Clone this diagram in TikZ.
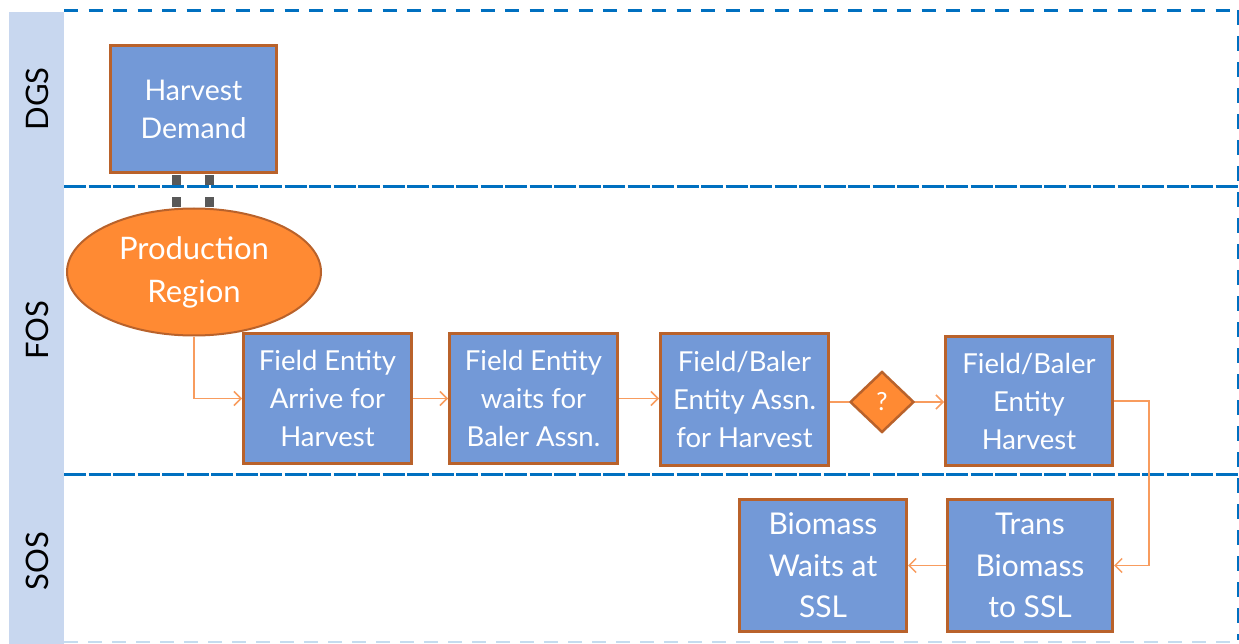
\documentclass[tikz,border=0pt]{standalone}
\usepackage{fontspec}
\setmainfont{Lato}
\usetikzlibrary{shapes.geometric,arrows.meta}
\definecolor{boxfill}{HTML}{7399D7}
\definecolor{boxedge}{HTML}{B9622B}
\definecolor{orfill}{HTML}{FF8A33}
\definecolor{lanecol}{HTML}{0070C0}
\definecolor{stripcol}{HTML}{C8D7EF}
\definecolor{arrcol}{HTML}{F89C5E}
\definecolor{conncol}{HTML}{595959}
\definecolor{faint}{HTML}{C5DCEF}
\begin{document}
\begin{tikzpicture}[x=1pt,y=-1pt,
  proc/.style={draw=boxedge, line width=3pt, fill=boxfill, text=white, align=center,
    inner sep=0pt, font=\fontsize{27.5}{38}\selectfont},
  procb/.style={proc, font=\fontsize{30}{41.5}\selectfont},
  lanelabel/.style={rotate=90, font=\fontsize{31}{34}\selectfont, text=black},
  flow/.style={draw=arrcol, line width=1.5pt, -{Straight Barb[length=7pt,width=14pt]}},
  linkline/.style={draw=conncol, line width=9pt, dash pattern=on 10pt off 12pt},
  divider/.style={draw=lanecol, line width=3pt, dash pattern=on 22pt off 2.5pt}]
\useasboundingbox (0,0) rectangle (1239,644);
% lane label strip
\fill[stripcol] (9,12) rectangle (64,644);
\node[lanelabel] (dgs) at (37,99) {DGS};
\node[lanelabel] (fos) at (37,330) {FOS};
\node[lanelabel] (sos) at (37,561) {SOS};
% lane borders
\draw[lanecol, line width=3pt, dash pattern=on 14pt off 10.5pt] (64,11) -- (1232,11);
\draw[lanecol, line width=2pt, dash pattern=on 15pt off 11pt] (1238,10) -- (1238,640);
\draw[faint, line width=2pt, dash pattern=on 14pt off 10pt] (64,642) -- (1236,642);
\draw[divider] (64,187) -- (1239,187);
\draw[divider] (64,474) -- (1239,474);
% nodes
\node[proc, minimum width=166pt, minimum height=127pt, font=\fontsize{28.5}{38}\selectfont] (hd) at (193.5,109) {Harvest\\Demand};
\node[ellipse, draw=boxedge, line width=2pt, fill=orfill, text=white, align=center, inner sep=0pt,
  minimum width=254pt, minimum height=127pt, font=\fontsize{31}{43}\selectfont] (pr) at (194,272) {Production\\Region};
\node[proc, minimum width=168pt, minimum height=130pt] (a1) at (327.5,398.5) {Field Entity\\Arrive for\\Harvest};
\node[proc, minimum width=168pt, minimum height=130pt] (a2) at (533.5,398.5) {Field Entity\\waits for\\Baler Assn.};
\node[proc, minimum width=168pt, minimum height=132pt] (a3) at (744.5,399.5) {Field/Baler\\Entity Assn.\\for Harvest};
\node[diamond, draw=boxedge, line width=2.5pt, fill=orfill, text=white, inner sep=0pt,
  minimum width=64pt, minimum height=61pt, font=\fontsize{25}{28}\selectfont] (dq) at (882,402) {?};
\node[proc, minimum width=167pt, minimum height=129pt] (h2) at (1029,401) {Field/Baler\\Entity\\Harvest};
\node[procb, minimum width=165pt, minimum height=132pt] (tr) at (1030,565.5) {Trans\\Biomass\\to SSL};
\node[procb, minimum width=167pt, minimum height=132pt] (bw) at (823,565.5) {Biomass\\Waits at\\SSL};
% gray link
\coordinate (l1) at ([xshift=-17.5pt]hd.south);
\coordinate (l2) at ([xshift=15.5pt]hd.south);
\draw[linkline] ([yshift=-1.5pt]l1) -- ++(0,34);
\draw[linkline] ([yshift=-1.5pt]l2) -- ++(0,34);
% flow arrows
\draw[flow] (pr.south) |- (a1.west);
\draw[flow] (a1.east) -- (a2.west);
\draw[flow] (a2.east) -- (a3.west |- a2.east);
\draw[flow, -] (a3.east |- dq.west) -- (dq.west);
\draw[flow] (dq.east) -- (h2.west |- dq.east);
\draw[flow] (h2.east) -- ++(35,0) |- (tr.east);
\draw[flow] (tr.west) -- (bw.east);
\end{tikzpicture}
\end{document}
